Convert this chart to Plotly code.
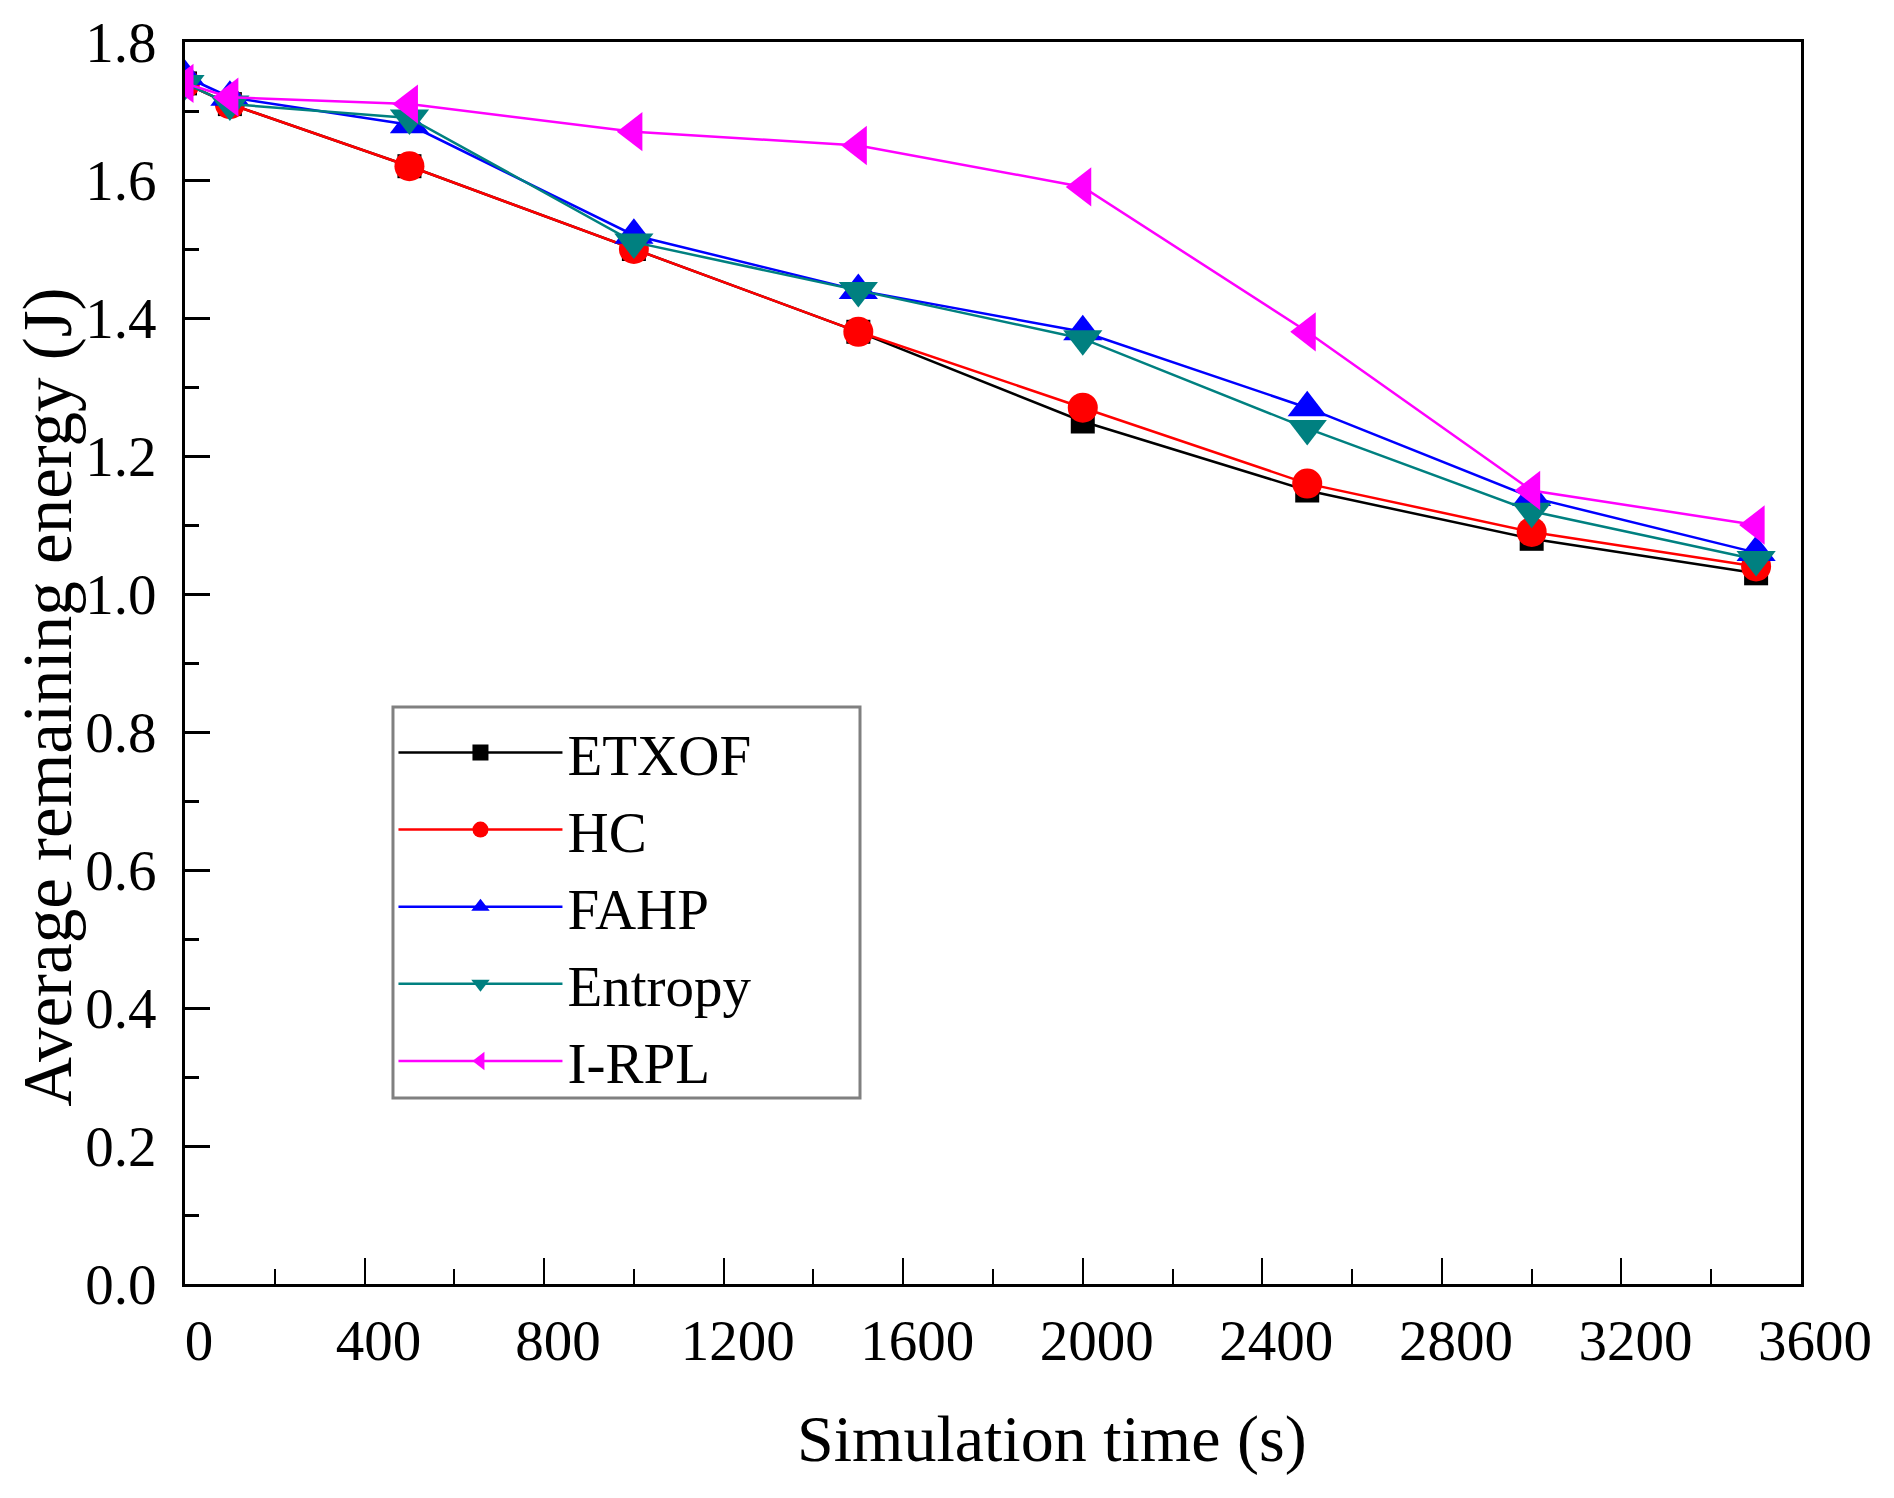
import plotly.graph_objects as go

# Temps de simulation (s)
temps = [0, 100, 500, 1000, 1500, 2000, 2500, 3000, 3500]

# Energie moyenne restante (J) par protocole
etxof = [1.74, 1.71, 1.62, 1.50, 1.38, 1.25, 1.15, 1.08, 1.03]
hc = [1.74, 1.71, 1.62, 1.50, 1.38, 1.27, 1.16, 1.09, 1.04]
fahp = [1.75, 1.72, 1.68, 1.52, 1.44, 1.38, 1.27, 1.14, 1.06]
entropy = [1.74, 1.71, 1.69, 1.51, 1.44, 1.37, 1.24, 1.12, 1.05]
irpl = [1.74, 1.72, 1.71, 1.67, 1.65, 1.59, 1.38, 1.15, 1.10]

noms = ['ETXOF', 'HC', 'FAHP', 'Entropy', 'I-RPL']
series = [etxof, hc, fahp, entropy, irpl]
couleurs = ['#000000', '#FF0000', '#0000FF', '#008080', '#FF00FF']
symboles = ['square', 'circle', 'triangle-up', 'triangle-down', 'triangle-left']
tailles = [24, 30, 34, 34, 34]

police = 'Liberation Serif'

fig = go.Figure()
for nom, valeurs, couleur, symbole, taille in zip(noms, series, couleurs, symboles, tailles):
    fig.add_trace(go.Scatter(
        x=temps,
        y=valeurs,
        mode='lines+markers',
        name=nom,
        line=dict(color=couleur, width=2.5),
        marker=dict(symbol=symbole, size=taille, color=couleur, line=dict(width=0))
    ))

# cadre de la légende
fig.add_shape(
    type='rect', xref='paper', yref='paper',
    x0=0.1287, x1=0.4177, y0=0.1498, y1=0.4646,
    line=dict(color='#808080', width=3), fillcolor='white', layer='above'
)

# titres des axes (légèrement décalés comme dans l'original)
fig.add_annotation(
    text='Simulation time (s)', xref='paper', yref='paper',
    x=0.5365, y=0, xanchor='center', yanchor='middle', yshift=-155,
    showarrow=False, font=dict(family=police, size=66, color='black')
)
fig.add_annotation(
    text='Average remaining energy (J)', xref='paper', yref='paper',
    x=0, y=0.472, xanchor='center', yanchor='middle', xshift=-137,
    textangle=-90, showarrow=False, font=dict(family=police, size=69, color='black')
)

# la page garde une marge de 8 px autour du graphique
fig.update_layout(
    width=1878,
    height=1482,
    template='plotly_white',
    plot_bgcolor='white',
    paper_bgcolor='white',
    margin=dict(l=177, r=85, t=34, b=206),
    font=dict(family=police, color='black'),
    legend=dict(
        x=0.129, y=0.463, xanchor='left', yanchor='top',
        bgcolor='rgba(0,0,0,0)', borderwidth=0,
        font=dict(family=police, size=57, color='black'),
        itemwidth=164,
        tracegroupgap=0
    ),
    xaxis=dict(
        range=[0, 3600],
        dtick=400,
        tick0=0,
        showgrid=False,
        zeroline=False,
        showline=True, linecolor='black', linewidth=3, mirror=True,
        ticks='inside', ticklen=26, tickwidth=2, tickcolor='black',
        minor=dict(dtick=200, ticks='inside', ticklen=15, tickwidth=2, tickcolor='black'),
        tickfont=dict(family=police, size=57, color='black'),
        ticklabelstandoff=5,
        ticklabelshift=14,
        automargin=False
    ),
    yaxis=dict(
        range=[0, 1.8],
        dtick=0.2,
        tick0=0,
        tickformat='.1f',
        showgrid=False,
        zeroline=False,
        showline=True, linecolor='black', linewidth=3, mirror=True,
        ticks='inside', ticklen=25, tickwidth=3, tickcolor='black',
        minor=dict(dtick=0.1, ticks='inside', ticklen=14, tickwidth=3, tickcolor='black'),
        tickfont=dict(family=police, size=57, color='black'),
        ticklabelstandoff=14,
        automargin=False
    )
)

fig.write_html("out.html")
